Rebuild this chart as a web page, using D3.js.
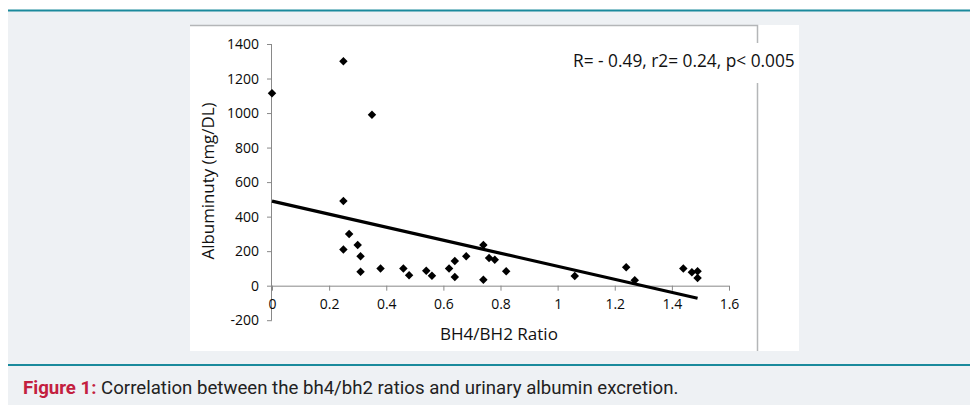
<!DOCTYPE html>
<html>
<head>
<meta charset="utf-8">
<script src="https://cdn.jsdelivr.net/npm/d3@7"></script>
<style>
html,body{margin:0;padding:0;background:#fff;}
svg{display:block;}
</style>
</head>
<body>
<svg id="c" width="970" height="405"></svg>
<script>
// ---- data ----
const ratioX = [0, 0.25, 0.35, 0.25, 0.25, 0.27, 0.30, 0.31, 0.31, 0.38, 0.46, 0.48, 0.54, 0.56, 0.62, 0.64, 0.64, 0.68, 0.74, 0.74, 0.76, 0.78, 0.82, 1.06, 1.24, 1.27, 1.44, 1.47, 1.49, 1.49];
const albuminY = [1115, 1300, 990, 490, 210, 300, 235, 170, 80, 100, 100, 60, 87, 58, 100, 143, 50, 170, 235, 35, 160, 150, 83, 56, 107, 31, 99, 78, 83, 45];
const trendX = [0, 1.49];
const trendY = [490, -73];
const xTicks = [0, 0.2, 0.4, 0.6, 0.8, 1, 1.2, 1.4, 1.6];
const yTicks = [-200, 0, 200, 400, 600, 800, 1000, 1200, 1400];
const xTitle = "BH4/BH2 Ratio";
const yTitle = "Albuminuty (mg/DL)";
const statText = "R= - 0.49, r2= 0.24, p< 0.005";
const captionLabel = "Figure 1:";
const captionText = " Correlation between the bh4/bh2 ratios and urinary albumin excretion.";

const svg = d3.select("#c");
const AX = "#898989";
const FONT = "'Open Sans', sans-serif";

function fit(sel, target) {
  const n = sel.node();
  const fs = parseFloat(sel.attr("font-size"));
  const w = n.getComputedTextLength();
  if (w > 0) sel.attr("font-size", (fs * target / w).toFixed(2));
}

// page frame
svg.append("rect").attr("x", 8).attr("y", 11).attr("width", 962).attr("height", 394).attr("fill", "#eef1f4");
svg.append("rect").attr("x", 8).attr("y", 9.5).attr("width", 962).attr("height", 2).attr("fill", "#1a8a9c");
svg.append("rect").attr("x", 8).attr("y", 364).attr("width", 962).attr("height", 2).attr("fill", "#1a8a9c");

// chart white area
svg.append("rect").attr("x", 190).attr("y", 25).attr("width", 609).attr("height", 326).attr("fill", "#fff");
svg.append("path").attr("d", "M190,25.5H757.5V351").attr("fill", "none").attr("stroke", "#b4b6b8").attr("stroke-width", 1.5);

// scales
const x = d3.scaleLinear().domain([0, 1.6]).range([272, 729]);
const y = d3.scaleLinear().domain([-200, 1400]).range([320.2, 44]);

// y axis
const yAxis = svg.append("g").attr("transform", `translate(${x(0)},0)`)
  .call(d3.axisLeft(y).tickValues(yTicks).tickSize(5).tickPadding(8).tickFormat(d => String(d)));
yAxis.attr("font-size", null).attr("font-family", null);
yAxis.select(".domain").attr("stroke", AX).attr("d", `M-0.5,${y(-200)}V${y(1400)}`);
yAxis.selectAll(".tick line").attr("stroke", AX);
yAxis.selectAll(".tick text").style("font-family", FONT).style("font-size", "14px").attr("fill", "#0a0a0a");

// x axis at y=0
const xAxis = svg.append("g").attr("transform", `translate(0,${y(0)})`)
  .call(d3.axisBottom(x).tickValues(xTicks).tickSize(5).tickPadding(8).tickFormat(d => String(d)));
xAxis.attr("font-size", null).attr("font-family", null);
xAxis.select(".domain").attr("stroke", AX).attr("d", `M${x(0)},0.5H${x(1.6)}`);
xAxis.selectAll(".tick line").attr("stroke", AX);
xAxis.selectAll(".tick text").style("font-family", FONT).style("font-size", "14px").attr("fill", "#0a0a0a");

// trend line
svg.append("path")
  .datum(trendX.map((v, i) => [v, trendY[i]]))
  .attr("d", d3.line().x(d => x(d[0])).y(d => y(d[1])))
  .attr("stroke", "#000").attr("stroke-width", 3.2).attr("fill", "none");

// points (square diamond)
const diamond = { draw(ctx, size) { const r = Math.sqrt(size) / 2; ctx.moveTo(0, -r); ctx.lineTo(r, 0); ctx.lineTo(0, r); ctx.lineTo(-r, 0); ctx.closePath(); } };
svg.append("g").selectAll("path").data(ratioX.map((v, i) => [v, albuminY[i]])).join("path")
  .attr("transform", d => `translate(${x(d[0])},${y(d[1])})`)
  .attr("d", d3.symbol().type(diamond).size(72))
  .attr("fill", "#000");

// axis titles
const xt = svg.append("text").attr("x", 499).attr("y", 340).attr("text-anchor", "middle")
  .attr("font-family", FONT).attr("font-size", 15).attr("fill", "#111").text(xTitle);
fit(xt, 118);
const yt = svg.append("text").attr("transform", "translate(214,181) rotate(-90)").attr("text-anchor", "middle")
  .attr("font-family", FONT).attr("font-size", 15).attr("fill", "#111").text(yTitle);
fit(yt, 157);

// stat annotation
svg.append("rect").attr("x", 565).attr("y", 43).attr("width", 234).attr("height", 40).attr("fill", "#fff");
const st = svg.append("text").attr("x", 573).attr("y", 67).attr("font-family", FONT).attr("font-size", 15)
  .attr("fill", "#111").text(statText);
fit(st, 222);

// caption
const cap = svg.append("text").attr("x", 23).attr("y", 393.5).attr("font-family", "Roboto, sans-serif").attr("font-size", 16);
cap.append("tspan").attr("fill", "#c3203f").attr("font-weight", "bold").text(captionLabel);
cap.append("tspan").attr("fill", "#222").text(captionText);
(function () {
  const w = cap.node().getComputedTextLength();
  if (w > 0) cap.attr("font-size", (16 * 656 / w).toFixed(2));
})();
</script>
</body>
</html>
